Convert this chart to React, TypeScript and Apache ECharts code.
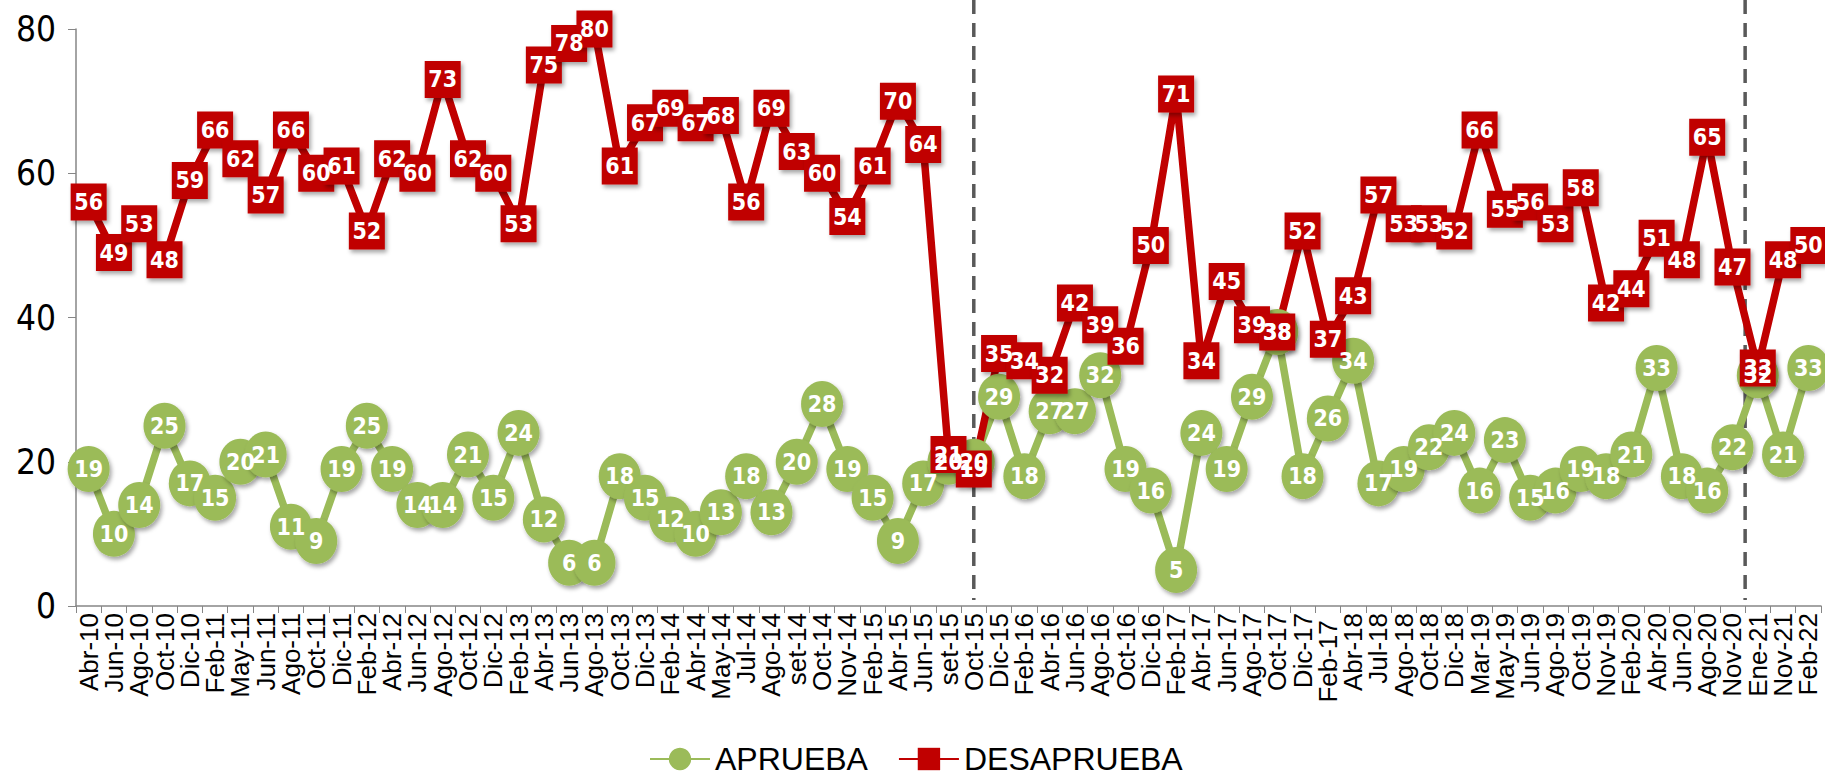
import React, { useEffect, useRef } from 'react';
import * as echarts from 'echarts';

const categories = [
  'Abr-10', 'Jun-10', 'Ago-10', 'Oct-10', 'Dic-10', 'Feb-11', 'May-11', 'Jun-11', 'Ago-11', 'Oct-11',
  'Dic-11', 'Feb-12', 'Abr-12', 'Jun-12', 'Ago-12', 'Oct-12', 'Dic-12', 'Feb-13', 'Abr-13', 'Jun-13',
  'Ago-13', 'Oct-13', 'Dic-13', 'Feb-14', 'Abr-14', 'May-14', 'Jul-14', 'Ago-14', 'set-14', 'Oct-14',
  'Nov-14', 'Feb-15', 'Abr-15', 'Jun-15', 'set-15', 'Oct-15', 'Dic-15', 'Feb-16', 'Abr-16', 'Jun-16',
  'Ago-16', 'Oct-16', 'Dic-16', 'Feb-17', 'Abr-17', 'Jun-17', 'Ago-17', 'Oct-17', 'Dic-17', 'Feb-17 ',
  'Abr-18', 'Jul-18', 'Ago-18', 'Oct-18', 'Dic-18', 'Mar-19', 'May-19', 'Jun-19', 'Ago-19', 'Oct-19',
  'Nov-19', 'Feb-20', 'Abr-20', 'Jun-20', 'Ago-20', 'Nov-20', 'Ene-21', 'Nov-21', 'Feb-22',
];

const aprueba = [
  19, 10, 14, 25, 17, 15, 20, 21, 11, 9,
  19, 25, 19, 14, 14, 21, 15, 24, 12, 6,
  6, 18, 15, 12, 10, 13, 18, 13, 20, 28,
  19, 15, 9, 17, 20, 20, 29, 18, 27, 27,
  32, 19, 16, 5, 24, 19, 29, 38, 18, 26,
  34, 17, 19, 22, 24, 16, 23, 15, 16, 19,
  18, 21, 33, 18, 16, 22, 32, 21, 33,
];

const desaprueba = [
  56, 49, 53, 48, 59, 66, 62, 57, 66, 60,
  61, 52, 62, 60, 73, 62, 60, 53, 75, 78,
  80, 61, 67, 69, 67, 68, 56, 69, 63, 60,
  54, 61, 70, 64, 21, 19, 35, 34, 32, 42,
  39, 36, 50, 71, 34, 45, 39, 38, 52, 37,
  43, 57, 53, 53, 52, 66, 55, 56, 53, 58,
  42, 44, 51, 48, 65, 47, 33, 48, 50,
];

const seriesNames = ['APRUEBA', 'DESAPRUEBA'];
const yTicks = { min: 0, max: 80, interval: 20 };
const dividerAt = ['Oct-15', ['Nov-20', 'Ene-21']];

const GREEN = '#9BBB59';
const RED = '#C00000';
const NARROW = "'Liberation Sans Narrow', 'DejaVu Sans Condensed', 'Liberation Sans', sans-serif";

export default function App() {
  const ref = useRef<HTMLDivElement>(null);
  useEffect(() => {
    const chart = echarts.init(ref.current!, null, { renderer: 'svg' });
    const shadow = {
      shadowColor: 'rgba(0,0,0,0.35)',
      shadowBlur: 4,
      shadowOffsetX: 2,
      shadowOffsetY: 3,
    };
    const label = {
      show: true,
      position: 'inside',
      color: '#fff',
      fontWeight: 'bold',
      fontSize: 23,
      fontFamily: NARROW,
    };
    chart.setOption({
      animation: false,
      backgroundColor: '#fff',
      grid: { left: 76, right: 4, top: 29, bottom: 172, containLabel: false },
      legend: {
        data: seriesNames,
        top: 738,
        left: 644,
        itemWidth: 60,
        itemHeight: 28,
        itemGap: 30,
        textStyle: { fontSize: 32, color: '#000', fontFamily: "'Liberation Sans', Arial, sans-serif" },
      },
      xAxis: {
        type: 'category',
        data: categories,
        boundaryGap: true,
        axisLine: { lineStyle: { color: '#868686', width: 1.5 } },
        axisTick: { show: true, interval: 0, length: 7, lineStyle: { color: '#868686' } },
        axisLabel: {
          interval: 0,
          rotate: 90,
          margin: 7,
          fontSize: 26,
          color: '#000',
          fontFamily: "'Liberation Sans', Arial, sans-serif",
        },
        splitLine: { show: false },
      },
      yAxis: {
        type: 'value',
        min: yTicks.min,
        max: yTicks.max,
        interval: yTicks.interval,
        axisLine: { show: true, lineStyle: { color: '#868686', width: 1.5 } },
        axisTick: { show: true, length: 8, lineStyle: { color: '#868686' } },
        axisLabel: { fontSize: 35, color: '#000', margin: 20, fontFamily: NARROW },
        splitLine: { show: false },
      },
      series: [
        {
          name: seriesNames[0],
          type: 'line',
          data: aprueba,
          symbol: 'circle',
          symbolSize: [42, 46],
          lineStyle: { color: GREEN, width: 7.5 },
          itemStyle: { color: GREEN, ...shadow },
          label,
          z: 2,
        },
        {
          name: seriesNames[1],
          type: 'line',
          data: desaprueba,
          symbol: 'rect',
          symbolSize: [36, 37],
          lineStyle: { color: RED, width: 7.5 },
          itemStyle: { color: RED, ...shadow },
          label,
          z: 2,
        },
      ],
    });

    const yTop = 0;
    const yBottom = (chart.convertToPixel({ yAxisIndex: 0 }, 0) as number) - 6;
    const xs: number[] = dividerAt.map((d) => {
      if (Array.isArray(d)) {
        const a = chart.convertToPixel({ xAxisIndex: 0 }, d[0]) as number;
        const b = chart.convertToPixel({ xAxisIndex: 0 }, d[1]) as number;
        return (a + b) / 2;
      }
      return chart.convertToPixel({ xAxisIndex: 0 }, d) as number;
    });
    chart.setOption({
      graphic: xs.map((x) => ({
        type: 'line',
        z: 1,
        silent: true,
        shape: { x1: x, y1: yTop, x2: x, y2: yBottom },
        style: { stroke: '#595959', lineWidth: 3.5, lineDash: [14, 9] },
      })),
    });

    return () => chart.dispose();
  }, []);
  return (
    <div
      ref={ref}
      style={{ position: 'fixed', left: 0, top: 0, width: 1825, height: 778, background: '#fff' }}
    />
  );
}
